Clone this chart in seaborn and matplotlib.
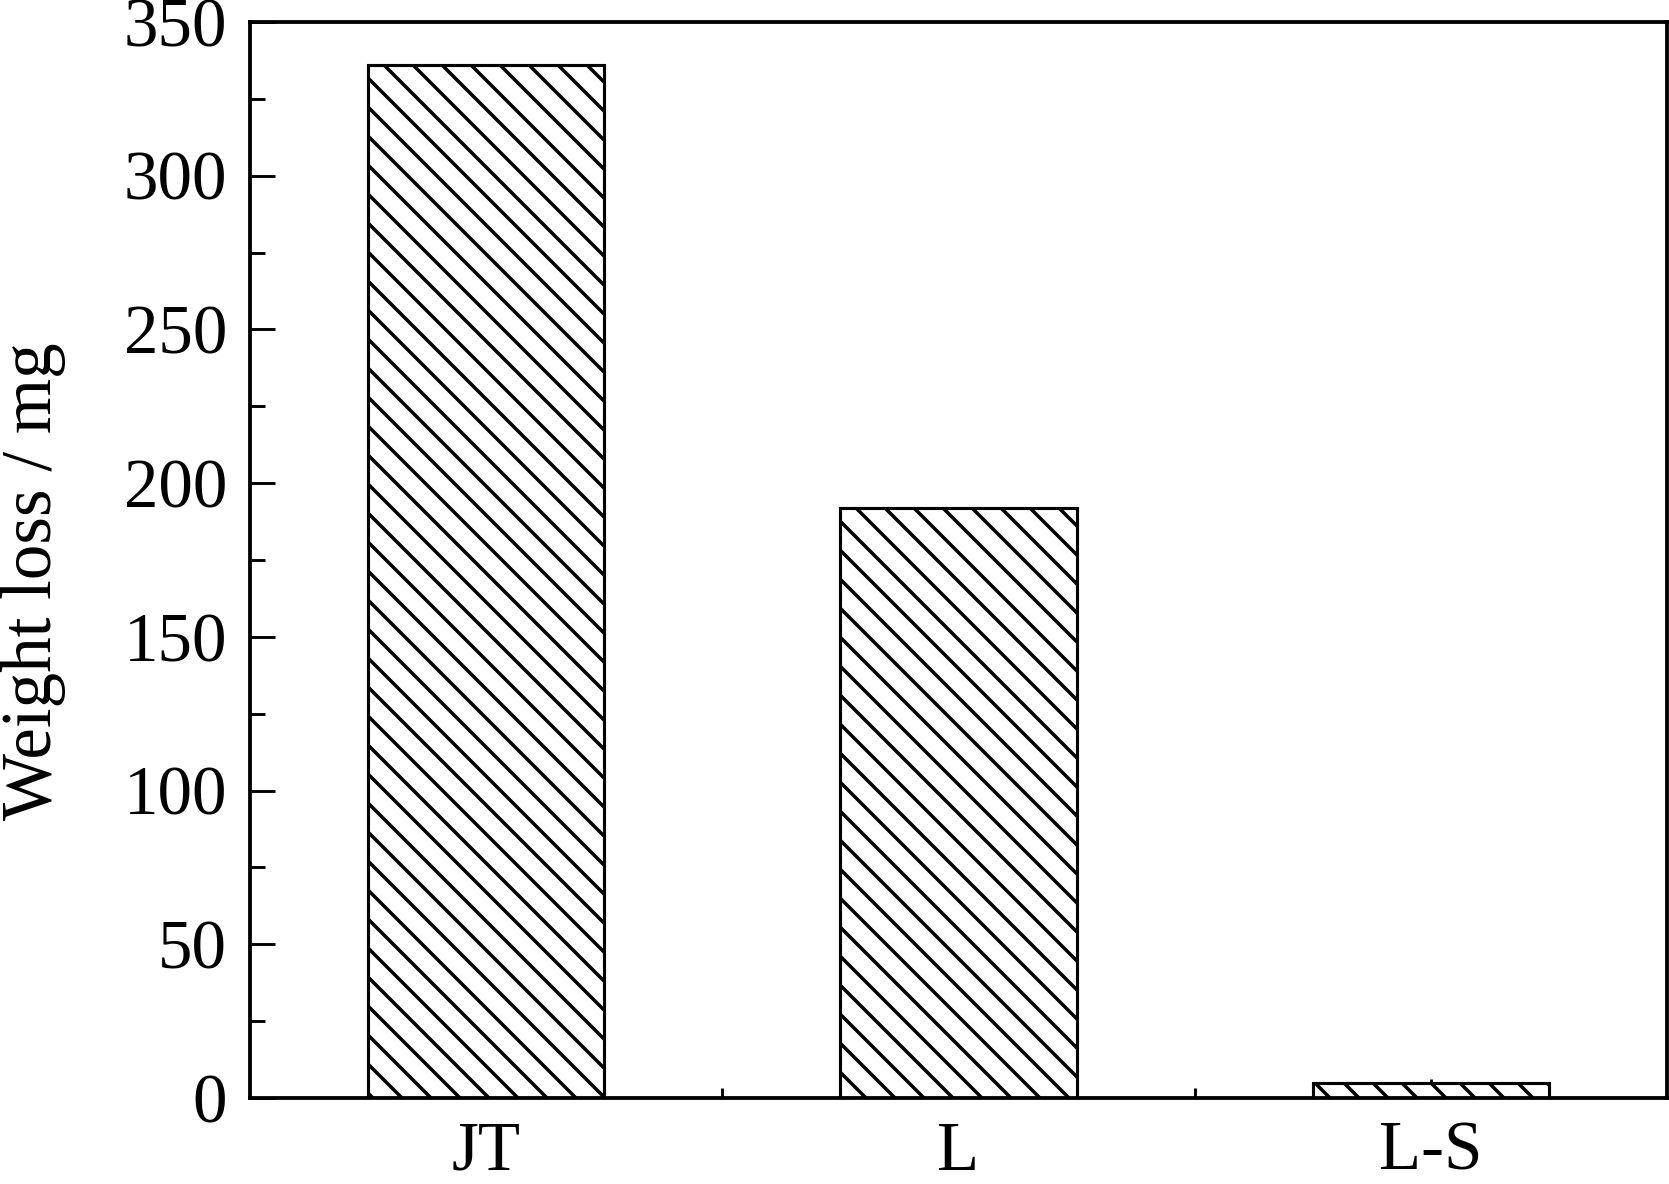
import numpy as np
import pandas as pd
import seaborn as sns
import matplotlib.pyplot as plt
from matplotlib.ticker import MultipleLocator

samples = ["JT", "L", "L-S"]
weight_loss = [336, 192, 5]

dpi = 174
px = 72 / dpi  # points per output pixel

sns.set_style("ticks")
plt.rcParams['font.family'] = ['Liberation Serif', 'DejaVu Serif']
plt.rcParams['hatch.linewidth'] = 3.5 * px
plt.rcParams['hatch.color'] = 'black'
plt.rcParams['text.color'] = 'black'
plt.rcParams['axes.labelcolor'] = 'black'

d = pd.DataFrame({"sample": samples, "loss": weight_loss})

fig = plt.figure(figsize=(1669 / dpi, 1184 / dpi), dpi=dpi)
ax = fig.add_axes([0.1498, 0.0726, 0.849, 0.9088])

sns.barplot(data=d, x="sample", y="loss", color="white", edgecolor="black",
            linewidth=3.1 * px, width=0.5, hatch="\\\\", ax=ax)
for p in ax.patches:
    p.set_facecolor("white")

ax.set_xlim(-0.5, 2.5)
ax.set_ylim(0, 350)
ax.yaxis.set_major_locator(MultipleLocator(50))
ax.yaxis.set_minor_locator(MultipleLocator(25))
ax.set_xticks([0.5, 1.5], minor=True)

ax.set_xlabel("")
ax.set_ylabel("Weight loss / mg", fontsize=71 * px, color="black")
ax.yaxis.set_label_coords(-0.130, 0.48)

for s in ax.spines.values():
    s.set_linewidth(3.8 * px)
    s.set_color("black")

ax.tick_params(axis="both", which="both", direction="in", width=2.9 * px, colors="black")
ax.tick_params(axis="y", which="major", length=25 * px, pad=23 * px, labelsize=69 * px)
ax.tick_params(axis="y", which="minor", length=15 * px)
ax.tick_params(axis="x", which="major", length=19 * px, pad=23 * px, labelsize=69 * px)
ax.tick_params(axis="x", which="minor", length=10 * px)

fig.savefig("out.png", dpi=dpi)
